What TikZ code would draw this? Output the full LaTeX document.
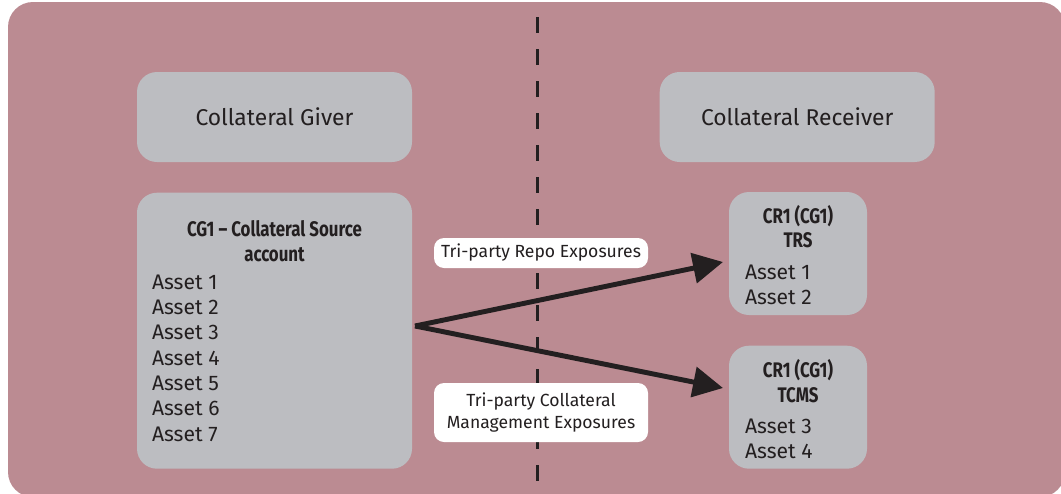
\documentclass[tikz,border=0pt]{standalone}
\usepackage{fontspec}
\setmainfont{Fira Sans}
\newfontfamily\condfont{Fira Sans}[FakeStretch=0.8]
\usetikzlibrary{arrows.meta, positioning}
\definecolor{mauve}{RGB}{187,139,146}
\definecolor{boxgrey}{RGB}{188,189,193}
\definecolor{ink}{RGB}{35,31,32}
\tikzstyle{panel} = [rectangle, rounded corners=0.4cm, fill=boxgrey, text=ink]
\tikzstyle{header} = [panel, minimum width=5.5cm, minimum height=1.8cm, font=\fontsize{13}{15}\selectfont]
\tikzstyle{account} = [panel, minimum width=2.76cm, minimum height=2.46cm]
\tikzstyle{heading} = [text=ink, align=center, inner sep=0pt, font=\condfont\bfseries\fontsize{12}{14}\selectfont]
\tikzstyle{assets} = [text=ink, align=left, inner sep=0pt, font=\fontsize{12}{14.4}\selectfont]
\tikzstyle{tag} = [rectangle, rounded corners=0.2cm, fill=white, text=ink, minimum width=4.28cm, align=center, font=\fontsize{10}{12.5}\selectfont]
\tikzstyle{arrow} = [line width=2.8pt, draw=ink, -{Triangle[length=0.6cm, width=0.6cm]}]

\begin{document}
\begin{tikzpicture}
      \useasboundingbox (0,0) rectangle (21.22,9.86);
      \fill [mauve, rounded corners=0.5cm] (0.16,-0.08) rectangle (21.3,9.82);

      % divider between giver and receiver
      \coordinate (divtop) at (10.755,9.52);
      \coordinate (divbottom) at (10.755,0.22);
      \draw [ink, line width=1.5pt, dash pattern=on 0.32cm off 0.32cm] (divtop) -- (divbottom);

      \node (giver) [header] at (5.49,7.52) {Collateral Giver};
      \node (receiver) [header, right=4.94cm of giver] {Collateral Receiver};

      \node (source) [panel, minimum width=5.5cm, minimum height=5.52cm, below=0.6cm of giver] {};
      \node (sourcehead) [heading, below=0.56cm of source.north] {CG1 – Collateral Source\\account};
      \node (sourceassets) [assets, below right=1.64cm and 0.3cm of source.north west] {Asset 1\\Asset 2\\Asset 3\\Asset 4\\Asset 5\\Asset 6\\Asset 7};

      \node (trs) [account] at (15.96,4.79) {};
      \node (trshead) [heading, below=0.26cm of trs.north] {CR1 (CG1)\\TRS};
      \node (trsassets) [assets, below right=1.46cm and 0.32cm of trs.north west] {Asset 1\\Asset 2};

      \node (tcms) [account, below=0.6cm of trs] {};
      \node (tcmshead) [heading, below=0.28cm of tcms.north] {CR1 (CG1)\\TCMS};
      \node (tcmsassets) [assets, below right=1.46cm and 0.32cm of tcms.north west] {Asset 3\\Asset 4};

      % exposures
      \coordinate (fork) at (8.3,3.34);
      \coordinate (repotip) at (14.46,4.62);
      \coordinate (cmstip) at (14.46,2.1);
      \draw [arrow] (fork) -- (repotip);
      \draw [arrow] (fork) -- (cmstip);

      \node (repo) [tag, minimum height=0.6cm] at (10.82,4.8) {Tri-party Repo Exposures};
      \node (cms) [tag, minimum height=1.18cm] at (10.82,1.61) {Tri-party Collateral\\Management Exposures};
    \end{tikzpicture}
\end{document}
